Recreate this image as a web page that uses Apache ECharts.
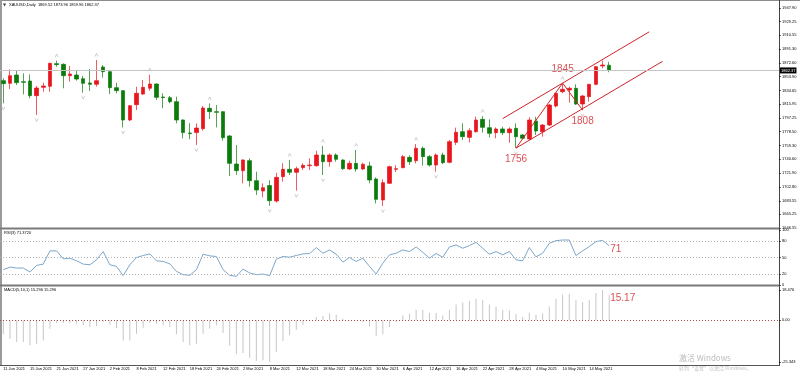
<!DOCTYPE html>
<html><head><meta charset="utf-8">
<script src="https://cdn.jsdelivr.net/npm/echarts@6/dist/echarts.min.js"></script>
<style>html,body{margin:0;padding:0;background:#fff}#c{width:800px;height:375px}</style>
</head><body><div id="c"></div>
<script>
const dates = [
'11 Jan 2021','12 Jan 2021','13 Jan 2021','14 Jan 2021','15 Jan 2021','18 Jan 2021','19 Jan 2021','20 Jan 2021','21 Jan 2021','22 Jan 2021',
'25 Jan 2021','26 Jan 2021','27 Jan 2021','28 Jan 2021','29 Jan 2021',
'1 Feb 2021','2 Feb 2021','3 Feb 2021','4 Feb 2021','5 Feb 2021','8 Feb 2021','9 Feb 2021','10 Feb 2021','11 Feb 2021','12 Feb 2021',
'15 Feb 2021','16 Feb 2021','17 Feb 2021','18 Feb 2021','19 Feb 2021','22 Feb 2021','23 Feb 2021','24 Feb 2021','25 Feb 2021','26 Feb 2021',
'1 Mar 2021','2 Mar 2021','3 Mar 2021','4 Mar 2021','5 Mar 2021','8 Mar 2021','9 Mar 2021','10 Mar 2021','11 Mar 2021','12 Mar 2021',
'15 Mar 2021','16 Mar 2021','17 Mar 2021','18 Mar 2021','19 Mar 2021','22 Mar 2021','23 Mar 2021','24 Mar 2021','25 Mar 2021','26 Mar 2021',
'29 Mar 2021','30 Mar 2021','31 Mar 2021',
'1 Apr 2021','5 Apr 2021','6 Apr 2021','7 Apr 2021','8 Apr 2021','9 Apr 2021','12 Apr 2021','13 Apr 2021','14 Apr 2021','15 Apr 2021','16 Apr 2021',
'19 Apr 2021','20 Apr 2021','21 Apr 2021','22 Apr 2021','23 Apr 2021','26 Apr 2021','27 Apr 2021','28 Apr 2021','29 Apr 2021','30 Apr 2021',
'3 May 2021','4 May 2021','5 May 2021','6 May 2021','7 May 2021','10 May 2021','11 May 2021','12 May 2021','13 May 2021','14 May 2021',
'17 May 2021','18 May 2021','19 May 2021'];

// [open, close, low, high]
const ohlc = [
[1848.4,1844.3,1817.3,1851.6],[1844.7,1855.2,1837.0,1863.9],[1856.1,1845.6,1842.4,1863.0],[1847.0,1846.1,1829.6,1858.4],[1847.9,1827.8,1824.2,1857.0],
[1827.8,1838.3,1801.3,1841.1],[1839.2,1841.1,1833.3,1845.6],[1840.6,1872.1,1833.3,1873.0],[1871.7,1870.3,1867.5,1875.8],[1870.7,1855.2,1837.9,1872.1],
[1855.2,1857.5,1847.0,1868.5],[1856.1,1850.6,1848.4,1862.1],[1851.1,1844.7,1831.9,1854.8],[1845.2,1843.4,1834.2,1864.4],[1843.4,1848.4,1840.1,1876.7],
[1867.1,1860.7,1852.5,1869.8],[1860.7,1838.8,1830.1,1863.0],[1838.8,1834.7,1831.0,1845.6],[1834.7,1794.5,1784.4,1835.6],[1794.5,1814.1,1793.1,1815.0],
[1815.5,1831.0,1808.2,1840.1],[1830.1,1839.2,1828.7,1849.3],[1837.9,1843.8,1834.7,1856.6],[1843.8,1825.5,1821.9,1844.7],[1826.0,1825.1,1810.5,1831.0],
[1825.1,1819.6,1817.3,1827.4],[1819.6,1794.5,1789.9,1826.5],[1794.5,1777.2,1769.4,1795.4],[1776.7,1775.8,1768.0,1789.9],[1777.2,1783.5,1760.2,1789.9],
[1782.6,1810.9,1779.9,1813.7],[1810.5,1805.9,1795.9,1817.3],[1805.9,1805.0,1784.4,1815.0],[1805.9,1770.3,1766.2,1806.4],[1772.6,1735.1,1717.8,1773.9],
[1734.2,1725.1,1719.2,1760.2],[1725.1,1739.7,1707.7,1740.6],[1738.8,1711.4,1703.2,1742.0],[1711.4,1698.6,1691.8,1723.7],[1697.2,1701.8,1688.6,1707.7],
[1704.6,1684.0,1677.0,1712.0],[1683.5,1715.9,1681.3,1722.3],[1716.9,1726.9,1710.0,1735.1],[1726.9,1722.8,1719.1,1739.7],[1722.8,1727.8,1697.7,1730.6],
[1729.2,1732.4,1726.0,1735.1],[1732.0,1732.9,1726.0,1742.0],[1731.9,1746.5,1730.6,1752.5],[1746.5,1737.4,1719.1,1758.9],[1737.4,1746.5,1730.6,1748.8],
[1746.5,1740.6,1737.4,1748.8],[1739.7,1727.8,1726.0,1740.6],[1727.4,1735.1,1726.0,1738.8],[1735.1,1727.4,1723.7,1753.4],[1727.4,1733.8,1726.0,1736.0],
[1731.5,1712.3,1707.7,1737.4],[1713.7,1685.8,1680.3,1715.9],[1684.9,1708.7,1676.7,1713.2],[1707.7,1730.6,1706.8,1731.9],[1726.9,1727.8,1723.2,1732.4],
[1729.2,1744.3,1728.3,1746.5],[1743.3,1737.4,1732.8,1746.1],[1738.8,1755.7,1735.1,1761.6],[1755.7,1744.3,1731.9,1758.0],[1744.3,1732.8,1730.6,1746.5],
[1732.8,1746.5,1723.7,1748.8],[1746.5,1736.0,1734.2,1749.7],[1736.5,1764.8,1735.1,1767.1],[1763.9,1777.6,1760.2,1784.0],[1778.5,1771.7,1767.1,1789.9],
[1770.7,1779.9,1763.9,1783.1],[1778.5,1794.5,1777.1,1799.1],[1795.4,1784.4,1777.1,1799.9],[1784.0,1776.2,1770.7,1795.4],[1777.1,1782.2,1769.4,1784.4],
[1782.2,1777.1,1773.9,1785.3],[1777.1,1782.2,1763.4,1784.4],[1783.1,1771.6,1756.0,1789.9],[1773.9,1769.4,1768.0,1775.3],[1768.5,1794.5,1767.1,1798.1],
[1793.1,1779.4,1773.9,1799.0],[1778.5,1787.6,1771.6,1789.0],[1787.6,1815.0,1786.3,1816.4],[1813.7,1831.0,1811.8,1832.0],[1833.3,1836.5,1831.0,1845.0],
[1835.6,1837.9,1818.2,1840.1],[1837.9,1816.4,1815.0,1843.3],[1816.4,1827.4,1808.0,1828.7],[1826.5,1843.3,1819.6,1844.0],[1843.3,1867.5,1842.0,1868.5],
[1868.5,1869.8,1865.3,1875.8],[1869.52,1862.37,1859.96,1873.96]];

const rsi = [27.8,32.6,30.8,30.8,23.6,35.6,38.0,62.0,62.0,47.6,
48.8,44.0,38.0,36.8,45.8,60.8,36.8,33.8,17.0,36.8,
50.0,53.6,56.6,44.0,42.8,38.6,24.8,18.8,17.6,27.8,
56.0,53.0,51.8,27.8,17.6,15.8,29.0,21.8,18.8,20.0,
17.0,47.0,51.8,50.6,53.6,56.6,57.2,68.0,57.8,63.8,
56.0,41.6,50.0,42.8,48.8,33.8,20.0,39.8,54.8,57.8,
63.8,60.8,69.2,59.6,48.8,57.2,50.6,69.2,72.8,66.8,
71.6,77.6,66.8,56.0,60.8,54.8,60.8,45.8,44.0,68.0,
51.2,57.8,75.8,80.6,81.8,81.8,53.6,62.0,69.8,78.8,
81.2,71.37];

const macd = [-8.5,-11.2,-13.2,-13.2,-15.2,-14.2,-12.2,-5.1,-1.6,-1.6,
-1.6,-2.0,-3.0,-4.1,-3.4,-1.0,-2.6,-4.7,-12.2,-12.2,
-8.1,-4.5,-1.6,-2.0,-3.0,-4.1,-8.5,-13.2,-15.2,-14.2,
-8.1,-5.1,-3.0,-7.7,-15.4,-20.7,-19.9,-22.7,-24.8,-24.3,
-25.3,-19.3,-12.6,-9.1,-5.7,-2.6,-0.4,2.0,2.6,4.1,
3.4,1.0,0.4,-0.2,-1.0,-3.7,-9.7,-8.5,-4.1,-1.0,
3.0,4.1,6.5,6.5,4.5,4.5,3.0,6.5,9.7,10.8,
11.8,13.2,12.6,9.7,8.5,6.5,6.1,3.7,2.0,4.7,
3.4,4.1,8.5,13.2,15.8,16.2,12.2,11.2,12.2,16.6,
18.4,15.3];

const priceTicks = [1947.90,1929.25,1910.55,1891.30,1872.60,1853.90,1834.65,1815.95,1797.25,1778.50,1759.30,1740.60,1721.90,1702.80,1683.55,1665.25,1646.55];
const rsiTicks = [0,20,50,80,100];
const rsiLevels = [20,50,80];
const macdTicks = [-25.343,0,18.476];
const fractalUp = [8,14,22,31,43,48,53,62,72,84];
const fractalDown = [0,5,12,18,29,40,44,48,57,65,77,87];
const upperChannel = [[75,1796.4],[97,1915.2]];
const lowerChannel = [[77,1756],[99,1874.8]];
const zigzag = [[77,1756],[84,1845],[87,1808]];
const pivots = [[77,1756,'1756','bottom'],[84,1845,'1845','top'],[87,1808,'1808','bottom']];
const lastPrice = 1862.37;
const rsiNote = [91,71.37,'71'];
const macdNote = [91,15.3,'15.17'];
const header = 'XAUUSD,Daily  1869.52 1873.96 1859.96 1862.37';
const rsiTitle = 'RSI(3) 71.3720';
const macdTitle = 'MACD(5,10,1) 15.296 15.296';

const N = 117;
const cats = dates.concat(Array.from({length: N - dates.length}, (_, k) => 'pad' + k));
const FF = 'Liberation Sans, Arial, sans-serif';
const RED = '#cf2329', UP = '#e8161d', DOWN = '#0b7b0b';

function catAxis(gi, show) {
  return {type:'category', gridIndex:gi, data:cats, boundaryGap:true,
    axisLine:{show:false}, axisTick:{show:false}, splitLine:{show:false},
    axisLabel: show ? {show:true, interval:(idx)=> idx % 4 === 0 && idx < dates.length,
      fontSize:4, color:'#000', align:'left', margin:5, fontFamily:FF} : {show:false}};
}
function valAxis(gi, min, max, ticks, fmt) {
  return {type:'value', gridIndex:gi, position:'right', min:min, max:max,
    splitLine:{show:false}, axisLine:{show:false},
    axisTick:{show:true, length:2, lineStyle:{color:'#000', width:0.6}, customValues:ticks},
    axisLabel:{customValues:ticks, formatter:fmt, fontSize:4, color:'#000', margin:3, fontFamily:FF}};
}
const redLabel = {show:true, color:RED, fontSize:10, fontFamily:FF};

const chart = echarts.init(document.getElementById('c'));
chart.setOption({
  animation:false,
  grid:[{left:0,right:21,top:8,height:220},{left:0,right:21,top:230,height:55},{left:0,right:21,top:290,height:72}],
  xAxis:[catAxis(0,false),catAxis(1,false),catAxis(2,true)],
  yAxis:[valAxis(0,1646.55,1947.9,priceTicks,v=>v.toFixed(2)),
         valAxis(1,0,100,rsiTicks,v=>String(v)),
         valAxis(2,-25.343,18.476,macdTicks,v=> v===0 ? '0.00' : String(v))],
  series:[
    {type:'candlestick', xAxisIndex:0, yAxisIndex:0, data:ohlc, barWidth:4,
      itemStyle:{color:UP,color0:DOWN,borderColor:UP,borderColor0:DOWN,borderWidth:0.7},
      markLine:{silent:true, symbol:['none','none'], lineStyle:{color:'#c4c4c4',type:'solid',width:1},
        label:{show:true, position:'end', formatter:lastPrice.toFixed(2), backgroundColor:'#000', color:'#fff', fontSize:4, padding:[1,1], distance:1, fontFamily:FF},
        data:[{yAxis:lastPrice}]}},
    {type:'scatter', xAxisIndex:0, yAxisIndex:0, data:fractalUp.map(i=>[i,ohlc[i][3]]),
      symbol:'path://M0,6L3,0L6,6', symbolSize:[3,3], symbolOffset:[0,-5],
      itemStyle:{color:'transparent', borderColor:'#999', borderWidth:0.6}},
    {type:'scatter', xAxisIndex:0, yAxisIndex:0, data:fractalDown.map(i=>[i,ohlc[i][2]]),
      symbol:'path://M0,0L3,6L6,0', symbolSize:[3,3], symbolOffset:[0,5],
      itemStyle:{color:'transparent', borderColor:'#999', borderWidth:0.6}},
    {type:'line', xAxisIndex:0, yAxisIndex:0, data:upperChannel, symbol:'none', lineStyle:{color:RED,width:1}},
    {type:'line', xAxisIndex:0, yAxisIndex:0, data:lowerChannel, symbol:'none', lineStyle:{color:RED,width:1}},
    {type:'line', xAxisIndex:0, yAxisIndex:0, data:zigzag, symbol:'none', lineStyle:{color:RED,width:1}},
    {type:'scatter', xAxisIndex:0, yAxisIndex:0, symbolSize:0,
      data:pivots.map(p=>({value:[p[0],p[1]], label:Object.assign({}, redLabel, {formatter:p[2], position:p[3], distance:p[3]==='top'?9:6})}))},
    {type:'line', xAxisIndex:1, yAxisIndex:1, data:rsi, symbol:'none', lineStyle:{color:'#7ba6ca',width:1},
      markLine:{silent:true, symbol:['none','none'], label:{show:false},
        lineStyle:{color:'#b4b4b4',type:[1,2],width:1}, data:rsiLevels.map(v=>({yAxis:v}))}},
    {type:'scatter', xAxisIndex:1, yAxisIndex:1, symbolSize:0,
      data:[{value:[rsiNote[0],rsiNote[1]], label:Object.assign({}, redLabel, {formatter:rsiNote[2], position:'right', distance:1, offset:[0,4]})}]},
    {type:'bar', xAxisIndex:2, yAxisIndex:2, data:macd, barWidth:1, itemStyle:{color:'#c6c6c6'},
      markLine:{silent:true, symbol:['none','none'], label:{show:false},
        lineStyle:{color:'#a84848',type:[1,2],width:1}, data:[{yAxis:0}]}},
    {type:'scatter', xAxisIndex:2, yAxisIndex:2, symbolSize:0,
      data:[{value:[macdNote[0],macdNote[1]], label:Object.assign({}, redLabel, {formatter:macdNote[2], position:'right', distance:1, offset:[0,3]})}]}
  ],
  graphic:[
    {type:'line', shape:{x1:0,y1:0.5,x2:800,y2:0.5}, style:{stroke:'#8c8c8c',lineWidth:1}},
    {type:'line', shape:{x1:1,y1:0,x2:1,y2:366}, style:{stroke:'#9a9a9a',lineWidth:2}},
    {type:'line', shape:{x1:779.5,y1:0,x2:779.5,y2:366}, style:{stroke:'#444',lineWidth:1}},
    {type:'line', shape:{x1:0,y1:228.5,x2:779.5,y2:228.5}, style:{stroke:'#7a7a7a',lineWidth:2}},
    {type:'line', shape:{x1:0,y1:285.5,x2:779.5,y2:285.5}, style:{stroke:'#7a7a7a',lineWidth:2}},
    {type:'line', shape:{x1:0,y1:365.5,x2:779.5,y2:365.5}, style:{stroke:'#555',lineWidth:1}},
    {type:'text', x:3, y:5, style:{text:'▼', fontSize:4, fill:'#444', verticalAlign:'middle', fontFamily:'DejaVu Sans'}},
    {type:'text', x:9, y:5, style:{text:header, fontSize:4, fill:'#000', verticalAlign:'middle', fontFamily:FF}},
    {type:'text', x:4, y:233, style:{text:rsiTitle, fontSize:4, fill:'#000', verticalAlign:'middle', fontFamily:FF}},
    {type:'text', x:4, y:290, style:{text:macdTitle, fontSize:4, fill:'#000', verticalAlign:'middle', fontFamily:FF}},
    {type:'text', x:679, y:358, style:{text:'激活 Windows', fontSize:8, fill:'#bcbcbc', verticalAlign:'middle', fontFamily:'Noto Sans CJK SC'}},
    {type:'text', x:679, y:368, style:{text:'转到“设置”以激活 Windows。', fontSize:5, fill:'#c4c4c4', verticalAlign:'middle', fontFamily:'Noto Sans CJK SC'}}
  ]
});
</script></body></html>
